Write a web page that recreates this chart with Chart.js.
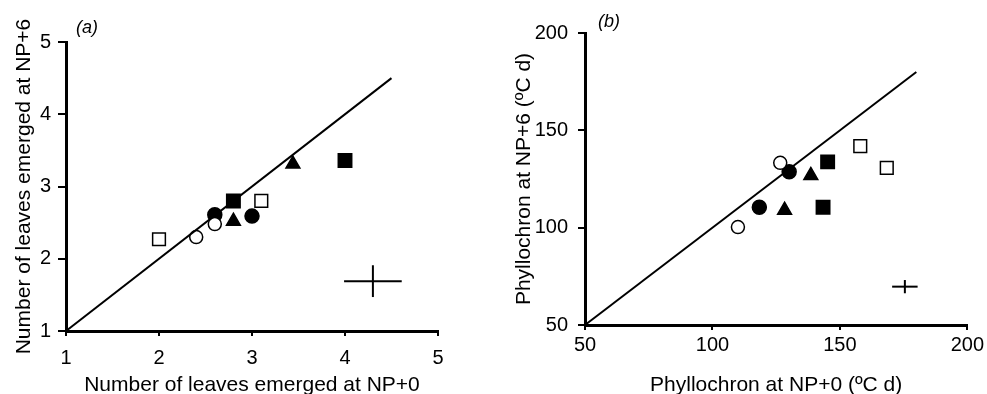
<!DOCTYPE html>
<html><head><meta charset="utf-8">
<script src="https://cdn.jsdelivr.net/npm/chart.js@4"></script>
<style>
html,body{margin:0;padding:0;background:#fff;width:987px;height:394px;overflow:hidden;}
#ca{position:absolute;left:0;top:0;}
#cb{position:absolute;left:494px;top:0;}
.lab{position:absolute;font-family:'Liberation Sans',Arial,sans-serif;font-style:italic;font-size:18px;color:#000;line-height:18px;}
</style></head><body>
<canvas id="ca" width="480" height="394"></canvas>
<canvas id="cb" width="493" height="394"></canvas>
<div class="lab" style="left:76px;top:18px">(a)</div>
<div class="lab" style="left:598px;top:12px">(b)</div>
<script>
const FONT = "'Liberation Sans', Arial, sans-serif";

// ---------- Panel (a): number of leaves emerged ----------
const aTitleX = 'Number of leaves emerged at NP+0';
const aTitleY = 'Number of leaves emerged at NP+6';
const aRange = [1, 5];
const aStep = 1;
const aOneToOne = [1, 4.5];
const aOpenSquareX = [2.0, 3.1];
const aOpenSquareY = [2.27, 2.80];
const aOpenCircleX = [2.4, 2.6];
const aOpenCircleY = [2.30, 2.48];
const aFilledCircleX = [2.6, 3.0];
const aFilledCircleY = [2.61, 2.59];
const aFilledSquareX = [2.8, 4.0];
const aFilledSquareY = [2.80, 3.36];
const aTriangleX = [2.8, 3.44];
const aTriangleY = [2.52, 3.31];
const aErrCenter = [4.3, 1.69];
const aErrHalf = [0.31, 0.22];

// ---------- Panel (b): phyllochron ----------
const bTitleX = 'Phyllochron at NP+0 (ºC d)';
const bTitleY = 'Phyllochron at NP+6 (ºC d)';
const bRange = [50, 200];
const bStep = 50;
const bOneToOne = [50, 180];
const bOpenCircleX = [110.0, 126.6];
const bOpenCircleY = [100.3, 133.3];
const bFilledCircleX = [118.4, 130.1];
const bFilledCircleY = [110.5, 128.7];
const bTriangleX = [128.3, 138.6];
const bTriangleY = [109.0, 126.8];
const bFilledSquareX = [145.2, 143.4];
const bFilledSquareY = [133.8, 110.5];
const bOpenSquareX = [158.0, 168.4];
const bOpenSquareY = [141.9, 130.7];
const bErrCenter = [175.5, 69.7];
const bErrHalf = [5.0, 3.4];

const pts = (xs, ys) => xs.map((x, i) => ({x: x, y: ys[i]}));

function lineDs(data, w) {
  return {type: 'scatter', data: data, showLine: true, borderColor: '#000', borderWidth: w,
          pointRadius: 0, fill: false, clip: false};
}
function markDs(data, style, filled, r) {
  return {type: 'scatter', data: data, pointStyle: style, pointRadius: r, pointHoverRadius: r,
          backgroundColor: filled ? '#000' : '#fff', borderColor: '#000',
          pointBorderWidth: 1.5, borderWidth: 1.5};
}
function crossDs(c, h) {
  return [
    lineDs([{x: c[0] - h[0], y: c[1]}, {x: c[0] + h[0], y: c[1]}], 2),
    lineDs([{x: c[0], y: c[1] - h[1]}, {x: c[0], y: c[1] + h[1]}], 2)
  ];
}

function build(canvas, o) {
  return new Chart(canvas, {
    type: 'scatter',
    data: {datasets: o.datasets},
    options: {
      responsive: false, animation: false, devicePixelRatio: 1,
      layout: {padding: o.pad},
      plugins: {legend: {display: false}, tooltip: {enabled: false}},
      scales: {
        x: {
          type: 'linear', position: 'bottom', min: o.range[0], max: o.range[1],
          ticks: {stepSize: o.step, color: '#000', font: {size: 20, family: FONT}, padding: o.xTickPad},
          grid: {drawOnChartArea: false, drawTicks: true, tickLength: 5, color: '#000', lineWidth: 2},
          border: {display: true, color: '#000', width: 3},
          title: {display: true, text: o.titleX, color: '#000', font: {size: 21, family: FONT}, padding: {top: 0, bottom: -4}},
          afterFit: s => { s.height = o.xH; }
        },
        y: {
          type: 'linear', position: 'left', min: o.range[0], max: o.range[1],
          ticks: {stepSize: o.step, color: '#000', font: {size: 20, family: FONT}, padding: o.yTickPad},
          grid: {drawOnChartArea: false, drawTicks: true, tickLength: o.yTick, color: '#000', lineWidth: 2},
          border: {display: true, color: '#000', width: 3},
          title: {display: true, text: o.titleY, color: '#000', font: {size: 21, family: FONT}, padding: {top: o.yTitlePad, bottom: 0}},
          afterFit: s => { s.width = o.yW; }
        }
      }
    }
  });
}

build(document.getElementById('ca'), {
  range: aRange, step: aStep, titleX: aTitleX, titleY: aTitleY,
  pad: {left: 0, top: 42, right: 42, bottom: 0},
  xH: 63, yW: 66, xTickPad: 10, yTickPad: 7, yTick: 8, yTitlePad: 12,
  datasets: [
    lineDs([{x: aOneToOne[0], y: aOneToOne[0]}, {x: aOneToOne[1], y: aOneToOne[1]}], 2),
    ...crossDs(aErrCenter, aErrHalf),
    markDs(pts(aOpenSquareX, aOpenSquareY), 'rect', false, 9),
    markDs(pts(aOpenCircleX, aOpenCircleY), 'circle', false, 6.5),
    markDs(pts(aFilledCircleX, aFilledCircleY), 'circle', true, 7),
    markDs(pts(aFilledSquareX, aFilledSquareY), 'rect', true, 9.5),
    markDs(pts(aTriangleX, aTriangleY), 'triangle', true, 8)
  ]
});

build(document.getElementById('cb'), {
  range: bRange, step: bStep, titleX: bTitleX, titleY: bTitleY,
  pad: {left: 0, top: 33, right: 18, bottom: 0},
  xH: 69, yW: 91, xTickPad: 3, yTickPad: 10, yTick: 7, yTitlePad: 18,
  datasets: [
    lineDs([{x: bOneToOne[0], y: bOneToOne[0]}, {x: bOneToOne[1], y: bOneToOne[1]}], 2),
    ...crossDs(bErrCenter, bErrHalf),
    markDs(pts(bOpenCircleX, bOpenCircleY), 'circle', false, 6.5),
    markDs(pts(bFilledCircleX, bFilledCircleY), 'circle', true, 7),
    markDs(pts(bTriangleX, bTriangleY), 'triangle', true, 8),
    markDs(pts(bFilledSquareX, bFilledSquareY), 'rect', true, 9.5),
    markDs(pts(bOpenSquareX, bOpenSquareY), 'rect', false, 9)
  ]
});
</script>
</body></html>
